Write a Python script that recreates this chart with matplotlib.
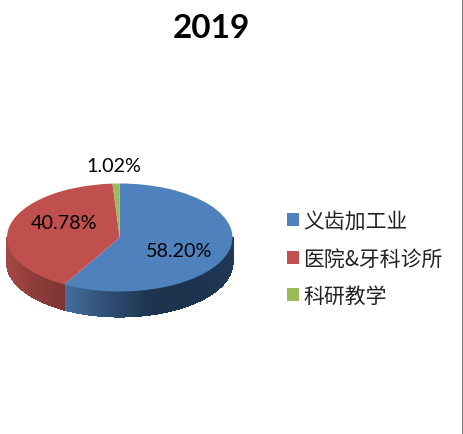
import numpy as np
import matplotlib
matplotlib.use('Agg')
import matplotlib.pyplot as plt
from matplotlib.collections import PolyCollection
from matplotlib.patches import Rectangle
from matplotlib.colors import LinearSegmentedColormap

plt.rcParams['font.family'] = ['Noto Sans CJK SC', 'DejaVu Sans']

title = '2019'
categories = ['义齿加工业', '医院&牙科诊所', '科研教学']
values = [58.20, 40.78, 1.02]
colors = ['#4F81BD', '#C0504D', '#9BBB59']

W, H = 464, 435
fig = plt.figure(figsize=(W/100, H/100), dpi=100, facecolor='white')
cx0, cx1, top, bot = 7, 232.5, 184.5, 292.5
depth_px = 25
ax = fig.add_axes([cx0/W, 1-bot/H, (cx1-cx0)/W, (bot-top)/H])
wedges, _ = ax.pie(values, colors=colors, startangle=90, counterclock=False, radius=1)
ax.set_aspect('auto')
ax.set_xlim(-1, 1)
ax.set_ylim(-1, 1)
depth = depth_px / ((bot-top)/2)

# side wall of the pie, shaded along its length
side_maps = {
    0: LinearSegmentedColormap.from_list('b', ['#46709F', '#2F4F75', '#1D3550', '#1C334E', '#1F3853']),
    1: LinearSegmentedColormap.from_list('r', ['#7F3532', '#8E3D3A', '#A64845']),
}
start = 90.0
for i, v in enumerate(values):
    sweep = v / sum(values) * 360
    a0, a1 = start - sweep, start
    start = a0
    lo, hi = max(a0, -180), min(a1, 0)
    if hi <= lo or i not in side_maps:
        continue
    th = np.radians(np.linspace(lo, hi, 160))
    x, y = np.cos(th), np.sin(th)
    quads = [[(x[k], y[k]), (x[k+1], y[k+1]), (x[k+1], y[k+1]-depth), (x[k], y[k]-depth)]
             for k in range(len(th)-1)]
    xm = (x[:-1] + x[1:]) / 2
    t = (xm - xm.min()) / (xm.max() - xm.min())
    if i == 1:
        t = 1 - t
    c = side_maps[i](t)
    pc = PolyCollection(quads, facecolors=c, edgecolors=c, linewidths=0.8,
                        antialiaseds=False, clip_on=False, zorder=0.5)
    ax.add_collection(pc)

def label_at(px, py, val):
    fig.text(px/W, 1-py/H, f'{val:.2f}%', family='Lato', fontsize=14.2,
             color='black', ha='center', va='center')
label_at(179, 251.5, values[0])
label_at(64, 224, values[1])
label_at(113.5, 166, values[2])

fig.text(211.5/W, 1-29/H, title, family='Lato', fontweight='bold', fontsize=24,
         color='black', ha='center', va='center')

fig.legend(wedges, categories, loc='upper left', bbox_to_anchor=(287/W, 1-211/H),
           bbox_transform=fig.transFigure, frameon=False, fontsize=15, handlelength=0.58,
           handleheight=0.58, handletextpad=0.2, labelspacing=0.75, borderpad=0, borderaxespad=0,
           labelcolor='#222222')

fig.add_artist(Rectangle((462/W, 0), 2/W, 1, transform=fig.transFigure, color='#808080', lw=0))
fig.savefig('out.png', dpi=100)
